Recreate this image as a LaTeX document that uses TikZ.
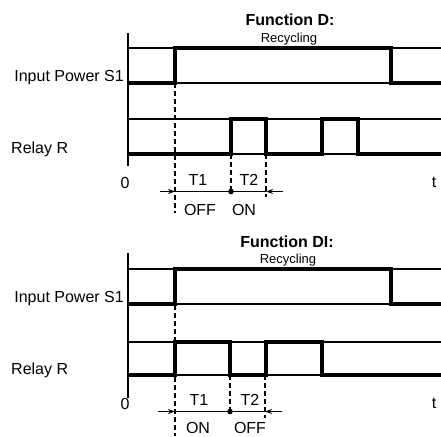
\documentclass[tikz,border=0pt]{standalone}
\usepackage{fontspec}
\setmainfont{Liberation Sans}
\usetikzlibrary{arrows.meta}
\begin{document}
\begin{tikzpicture}[x=1pt,y=-1pt,
  sig/.style={line width=4.4pt,line join=miter,line cap=butt},
  thinline/.style={line width=1.2pt},
  axisline/.style={line width=1.7pt},
  dsh/.style={line width=1.5pt,dash pattern=on 5pt off 3pt},
  dimline/.style={line width=1.2pt},
  tip/.style={-{Stealth[length=7pt,width=5pt]},line width=1.2pt},
  lab/.style={inner sep=0pt,font=\fontsize{16}{18}\selectfont,anchor=base},
  title/.style={inner sep=0pt,font=\fontsize{16}{18}\selectfont\bfseries,anchor=base},
  sub/.style={inner sep=0pt,font=\fontsize{13}{15}\selectfont,anchor=base}]
\useasboundingbox (0,0) rectangle (441,436);
% ---------------- top panel ----------------
\begin{scope}
\coordinate (aT) at (128,33); \coordinate (aB) at (128,166);
\draw[axisline] (aT) -- (aB);
\coordinate (ih0) at (128,48); \coordinate (ih1) at (441,48);
\coordinate (il0) at (128,83); \coordinate (il1) at (441,83);
\coordinate (rh0) at (128,119); \coordinate (rh1) at (441,119);
\coordinate (rl0) at (128,154); \coordinate (rl1) at (441,154);
\draw[thinline] (ih0) -- (ih1) (il0) -- (il1) (rh0) -- (rh1) (rl0) -- (rl1);
\draw[sig] (il0) -| (175,48) -| (391,83) -- (il1);
\draw[sig] (rl0) -| (231,119) -| (266,154) -| (322,119) -| (358,154) -- (rl1);
\coordinate (d1a) at (175,83); \coordinate (d1b) at (175,213);
\coordinate (d2a) at (231,154); \coordinate (d2b) at (231,192);
\coordinate (d3a) at (266,154); \coordinate (d3b) at (266,197);
\draw[dsh] (d1a) -- (d1b) (d2a) -- (d2b) (d3a) -- (d3b);
\coordinate (mL) at (160,191.5); \coordinate (m1) at (175,191.5);
\coordinate (mD) at (231,191.5);
\coordinate (m2) at (266,191.5); \coordinate (mR) at (283,191.5);
\draw[dimline] (m1) -- (m2);
\draw[tip] (mL) -- (m1);
\draw[tip] (mR) -- (m2);
\fill (mD) circle (2.8pt);
\node[title] (ftD) at (290,26) {Function D:};
\node[sub] (rcD) at (289,42) {Recycling};
\node[lab,anchor=base east] (ipD) at (124,81) {Input Power S1};
\node[lab,anchor=base west] (rrD) at (11,153.5) {Relay R};
\node[lab] (t1D) at (198,185) {T1};
\node[lab] (t2D) at (249,185) {T2};
\node[lab] (offD) at (200,215) {OFF};
\node[lab] (onD) at (244,215) {ON};
\node[lab] (zD) at (125,188) {0};
\node[lab] (tD) at (434,187) {t};
\end{scope}
% ---------------- bottom panel ----------------
\begin{scope}[shift={(0,221)}]
\coordinate (baT) at (128,32); \coordinate (baB) at (128,177);
\draw[axisline] (baT) -- (baB);
\coordinate (bih0) at (128,48); \coordinate (bih1) at (441,48);
\coordinate (bil0) at (128,83); \coordinate (bil1) at (441,83);
\coordinate (brh0) at (128,121); \coordinate (brh1) at (441,121);
\coordinate (brl0) at (128,154); \coordinate (brl1) at (441,154);
\draw[thinline] (bih0) -- (bih1) (bil0) -- (bil1) (brh0) -- (brh1) (brl0) -- (brl1);
\draw[sig] (bil0) -| (175,48) -| (391,83) -- (bil1);
\draw[sig] (brl0) -| (175,121) -| (230,154) -| (266,121) -| (322,154) -- (brl1);
\coordinate (bd1a) at (175,84); \coordinate (bd1b) at (175,215);
\coordinate (bd2a) at (230,154); \coordinate (bd2b) at (230,191);
\coordinate (bd3a) at (265,154); \coordinate (bd3b) at (265,197);
\draw[dsh] (bd1a) -- (bd1b) (bd2a) -- (bd2b) (bd3a) -- (bd3b);
\coordinate (bmL) at (158,190.5); \coordinate (bm1) at (175,190.5);
\coordinate (bmD) at (230,190.5);
\coordinate (bm2) at (265,190.5); \coordinate (bmR) at (282,190.5);
\draw[dimline] (bm1) -- (bm2);
\draw[tip] (bmL) -- (bm1);
\draw[tip] (bmR) -- (bm2);
\fill (bmD) circle (2.8pt);
\node[title] (ftDI) at (287,26) {Function DI:};
\node[sub] (rcDI) at (288,42) {Recycling};
\node[lab,anchor=base east] (ipDI) at (124,81) {Input Power S1};
\node[lab,anchor=base west] (rrDI) at (11,153.5) {Relay R};
\node[lab] (t1DI) at (199,184) {T1};
\node[lab] (t2DI) at (250,184) {T2};
\node[lab] (onDI) at (198,212.5) {ON};
\node[lab] (offDI) at (250,212.5) {OFF};
\node[lab] (zDI) at (125,188) {0};
\node[lab] (tDI) at (434,187) {t};
\end{scope}
\end{tikzpicture}
\end{document}
